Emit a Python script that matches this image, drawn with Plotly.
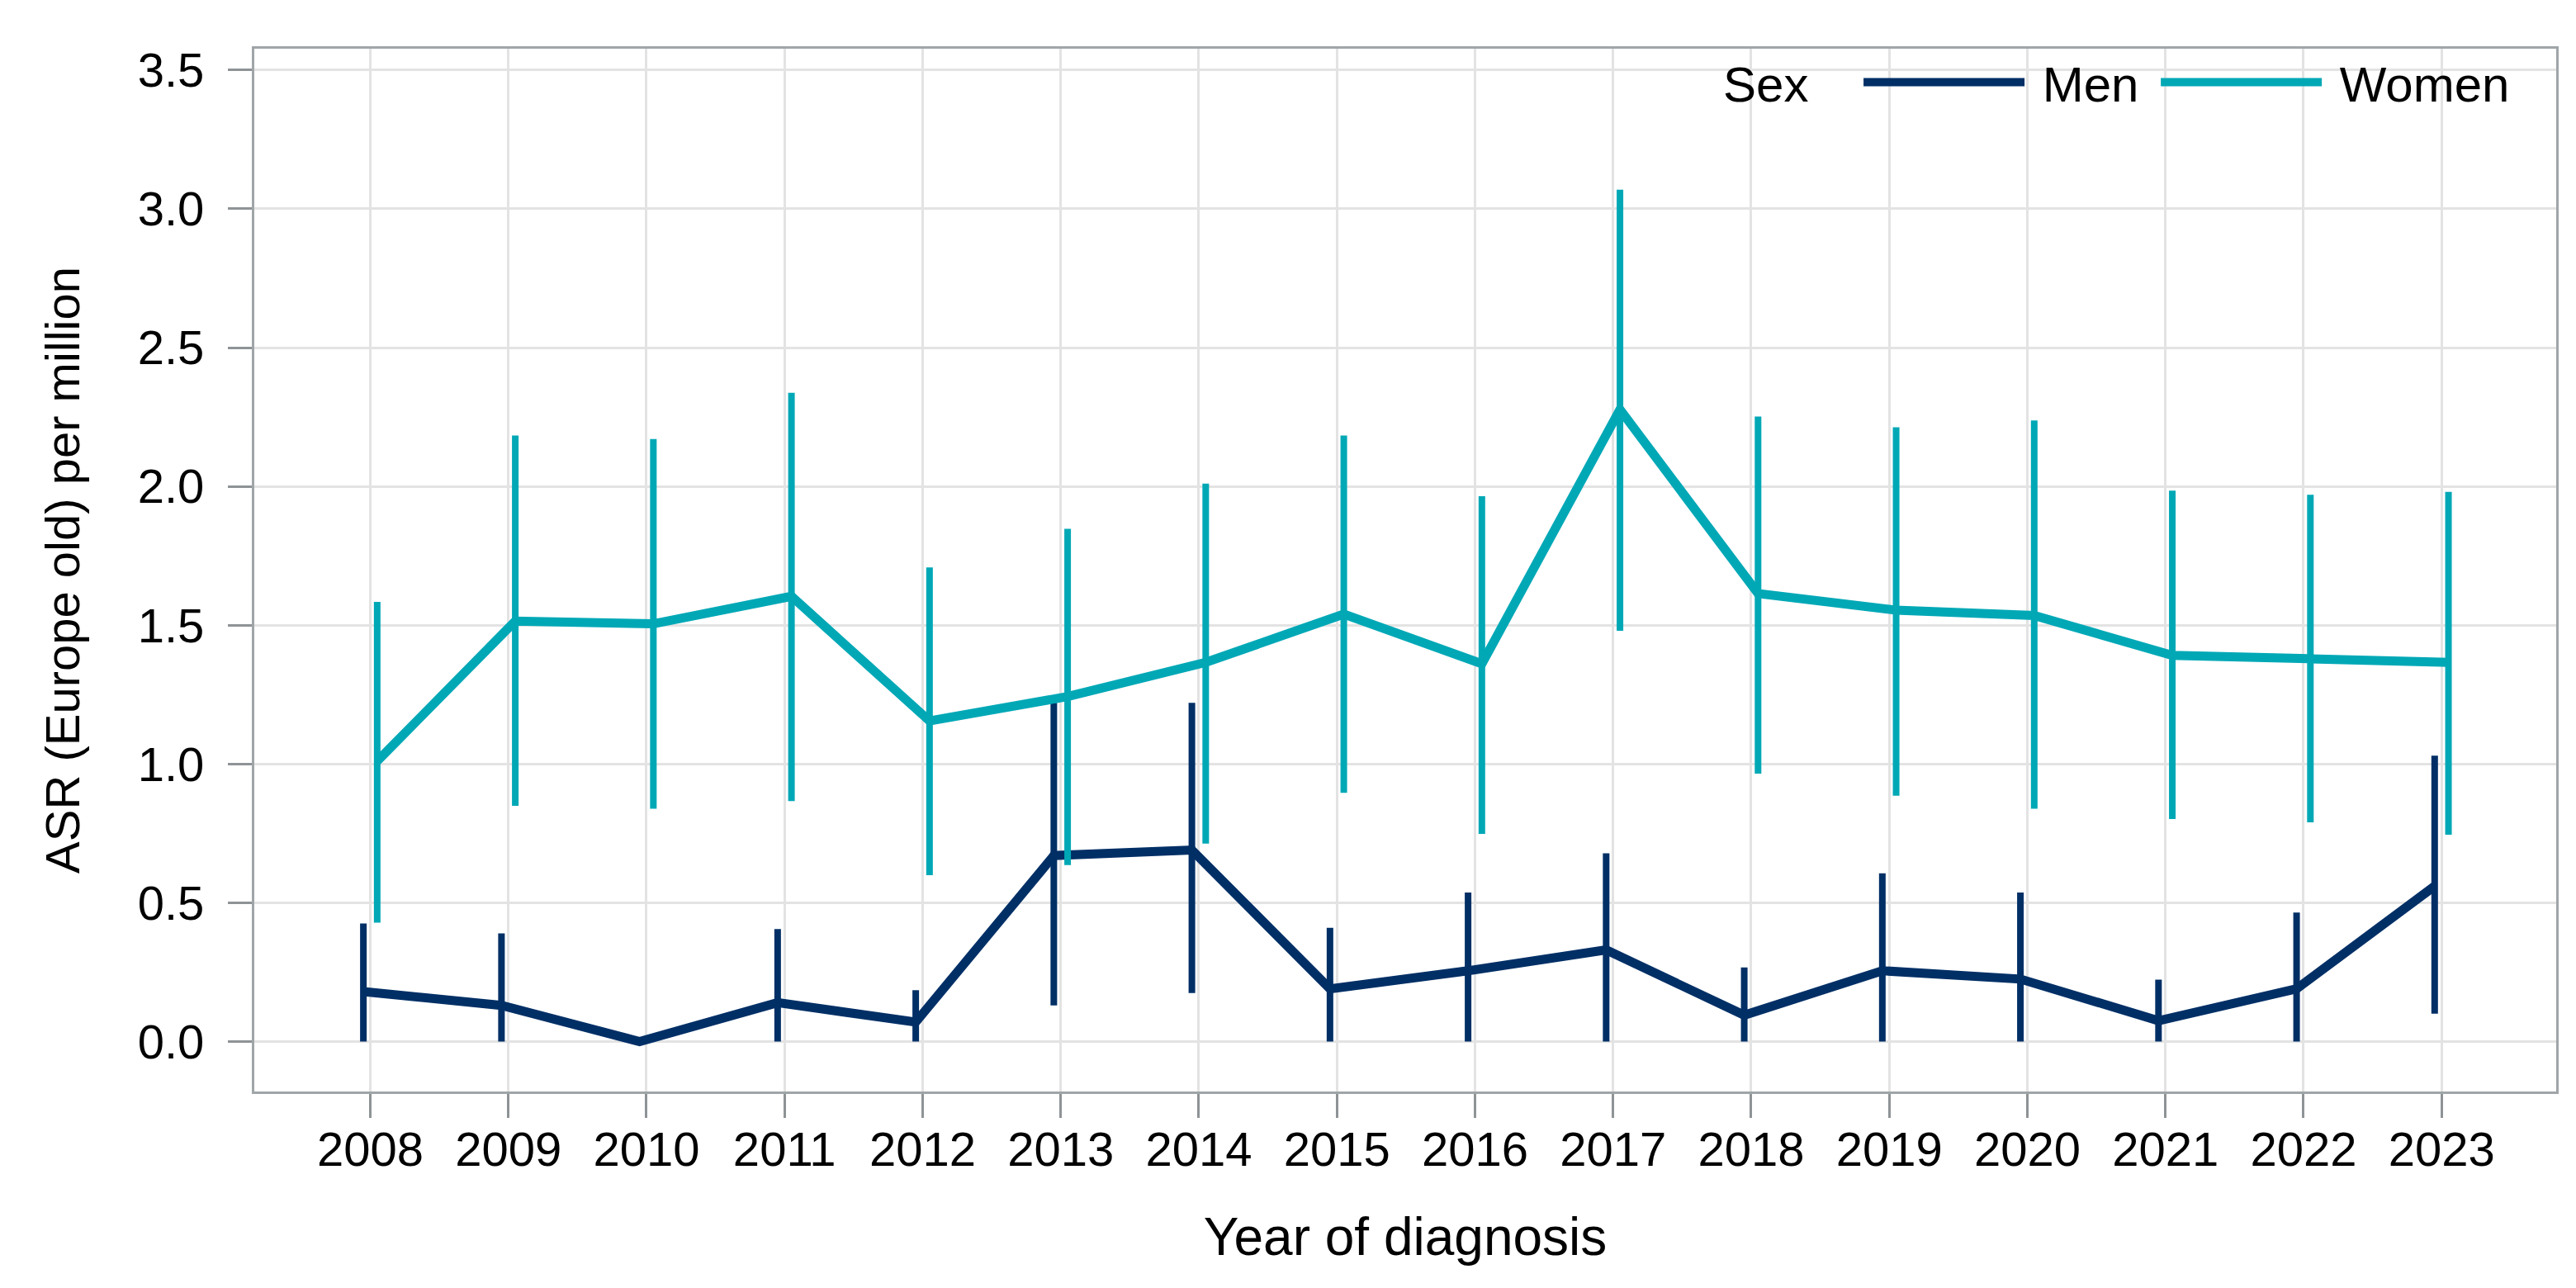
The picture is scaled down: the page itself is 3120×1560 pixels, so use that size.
import plotly.graph_objects as go
import numpy as np

years = list(range(2008, 2024))
tick_labels = [str(y) for y in years]

men_asr = [0.18, 0.13, 0.00, 0.14, 0.07, 0.67, 0.69, 0.19, 0.255, 0.33, 0.095, 0.255, 0.225, 0.075, 0.19, 0.56]
men_lo  = [0.00, 0.00, 0.00, 0.00, 0.00, 0.13, 0.175, 0.00, 0.00, 0.00, 0.00, 0.00, 0.00, 0.00, 0.00, 0.10]
men_hi  = [0.425, 0.39, 0.00, 0.405, 0.185, 1.22, 1.22, 0.41, 0.537, 0.678, 0.267, 0.606, 0.537, 0.223, 0.465, 1.03]

women_asr = [1.01, 1.515, 1.505, 1.604, 1.155, 1.243, 1.366, 1.54, 1.361, 2.277, 1.614, 1.554, 1.535, 1.391, 1.379, 1.366]
women_lo  = [0.428, 0.849, 0.839, 0.866, 0.599, 0.636, 0.713, 0.896, 0.748, 1.48, 0.965, 0.886, 0.839, 0.802, 0.79, 0.745]
women_hi  = [1.584, 2.183, 2.171, 2.337, 1.708, 1.847, 2.01, 2.183, 1.965, 3.069, 2.252, 2.213, 2.238, 1.985, 1.97, 1.98]

MEN_COLOR = "#002F66"
WOMEN_COLOR = "#00A8B6"
DODGE = 0.05
FONT = "Liberation Sans, Arial, sans-serif"
NB = "\u00a0"

fig = go.Figure()

def add_series(name, label, asr, lo, hi, color, offset):
    asr = np.array(asr); lo = np.array(lo); hi = np.array(hi)
    fig.add_trace(go.Scatter(
        x=np.array(years) + offset, y=asr, name=label, mode="lines",
        line=dict(color=color, width=11),
        error_y=dict(type="data", symmetric=False, array=hi - asr, arrayminus=asr - lo,
                     color=color, thickness=8, width=0, visible=True),
        hovertemplate=name + ": %{y:.2f}<extra></extra>",
    ))

add_series("Men", NB + "Men" + NB, men_asr, men_lo, men_hi, MEN_COLOR, -DODGE)
add_series("Women", NB + "Women", women_asr, women_lo, women_hi, WOMEN_COLOR, DODGE)

axis_common = dict(
    showline=True, mirror=True, linecolor="#A0A5A8", linewidth=3,
    showgrid=True, gridcolor="#E3E3E3", gridwidth=3,
    ticks="outside", ticklen=29, tickwidth=3, tickcolor="#8E9396",
    tickfont=dict(family=FONT, size=58, color="#000000"),
    zeroline=False,
)

fig.update_xaxes(
    range=[2007.16, 2023.83], tickvals=years, ticktext=tick_labels,
    ticklabelstandoff=-12,
    title=dict(text="Year of diagnosis", font=dict(family=FONT, size=64, color="#000000"), standoff=53),
    **axis_common,
)
fig.update_yaxes(
    range=[-0.18, 3.577], tickvals=[0, 0.5, 1, 1.5, 2, 2.5, 3, 3.5],
    ticktext=["0.0", "0.5", "1.0", "1.5", "2.0", "2.5", "3.0", "3.5"],
    ticklabelstandoff=17,
    title=dict(text="ASR (Europe old) per million", font=dict(family=FONT, size=58, color="#000000"), standoff=52),
    **axis_common,
)

fig.add_annotation(
    text="Sex", xref="paper", yref="paper", x=0.6374, y=0.9652,
    xanchor="left", yanchor="middle", showarrow=False,
    font=dict(family=FONT, size=60, color="#000000"),
)

fig.update_layout(
    width=3120, height=1560,
    margin=dict(l=300, r=32, t=51, b=246),
    plot_bgcolor="#FFFFFF", paper_bgcolor="#FFFFFF",
    showlegend=True,
    legend=dict(
        orientation="h", x=0.6973, xanchor="left", y=1.004, yanchor="top",
        bgcolor="rgba(0,0,0,0)",
        font=dict(family=FONT, size=60, color="#000000"),
        itemwidth=195,
    ),
)

fig.write_html("out.html")
